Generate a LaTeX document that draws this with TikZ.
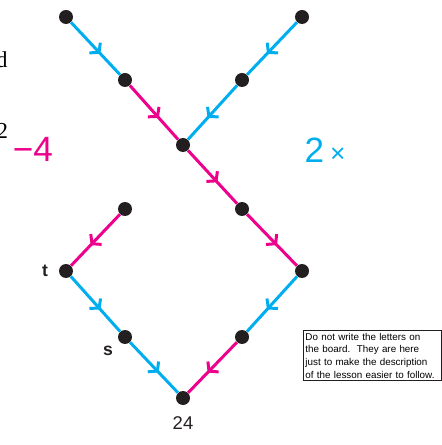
\documentclass[tikz,border=0pt]{standalone}
\usepackage{fontspec}
\setmainfont{Liberation Serif}
\setsansfont{Liberation Sans}
\usetikzlibrary{arrows.meta, decorations.markings}
\definecolor{OpCyan}{HTML}{00AEEF}
\definecolor{OpMagenta}{HTML}{EC008C}
\definecolor{DotBlack}{HTML}{231F20}

\begin{document}
\begin{tikzpicture}[x=0.02cm, y=-0.02cm,
  dot/.style={circle, fill=DotBlack, inner sep=0pt, minimum size=0.28cm},
  flow/.style={line width=1.7pt, postaction={decorate},
               decoration={markings, mark=at position 0.6 with
                 {\arrow{Straight Barb[length=3.5pt, width=8.5pt]}}}},
  times2/.style={flow, OpCyan},
  minus4/.style={flow, OpMagenta},
  lbl/.style={font=\sffamily\bfseries\fontsize{10}{10}\selectfont, text=DotBlack},
  oplbl/.style={font=\sffamily\fontsize{20}{20}\selectfont},
  note/.style={draw=DotBlack, line width=0.4pt, inner xsep=1.2pt, inner ysep=1.5pt,
               text width=76pt, align=left, anchor=north west,
               font=\sffamily\fontsize{5.6}{7.2}\selectfont},
]
  \useasboundingbox (0,0) rectangle (441,445);

  % cut-off words at the left edge
  \node[anchor=base east, inner sep=0pt, font=\fontsize{13}{13}\selectfont] (cutd) at (8,68) {d};
  \node[anchor=base east, inner sep=0pt, font=\fontsize{13}{13}\selectfont] (cutsq) at (8.5,139) {2};

  % the dots
  \node[dot] (tl) at (66,17) {};
  \node[dot] (tr) at (302,17) {};
  \node[dot] (ul) at (125,80) {};
  \node[dot] (ur) at (242,80) {};
  \node[dot] (mid) at (183,145) {};
  \node[dot] (ml) at (125,209) {};
  \node[dot] (mr) at (242,209) {};
  \node[dot] (t) at (66,271) {};
  \node[dot] (rr) at (302,271) {};
  \node[dot] (s) at (125,337) {};
  \node[dot] (lr) at (242,337) {};
  \node[dot] (bot) at (183,398) {};

  % upper cross
  \draw[times2] (tl) -- (ul);
  \draw[minus4] (ul) -- (mid);
  \draw[times2] (tr) -- (ur);
  \draw[times2] (ur) -- (mid);
  \draw[minus4] (mid) -- (mr);
  \draw[minus4] (mr) -- (rr);
  \draw[times2] (rr) -- (lr);
  \draw[minus4] (lr) -- (bot);
  % lower left branch
  \draw[minus4] (ml) -- (t);
  \draw[times2] (t) -- (s);
  \draw[times2] (s) -- (bot);

  % labels
  \node[oplbl, text=OpMagenta] (opm) at (33,149) {−4};
  \node[oplbl, text=OpCyan] (opc) at (325,150) {2\,{\fontsize{15}{15}\selectfont ×}};
  \node[lbl] (tlbl) at (45,271) {t};
  \node[lbl] (slbl) at (108,351) {s};
  \node[font=\sffamily\fontsize{10.5}{10.5}\selectfont, text=DotBlack] (res) at (183,423) {24};

  \node[note] (hint) at (303,330)
    {\hyphenpenalty=10000 Do not write the letters on\\
     the board.\ \ They are here\\
     just to make the description\\
     of the lesson easier to follow.};
\end{tikzpicture}
\end{document}
